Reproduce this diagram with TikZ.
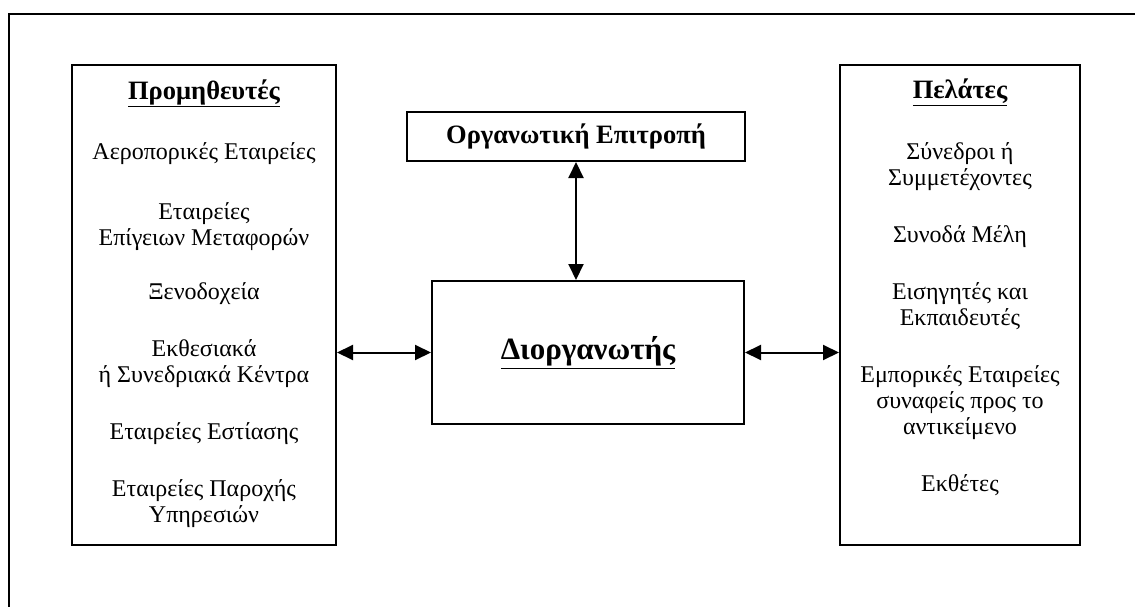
\documentclass[tikz,border=0pt]{standalone}
\usepackage{fontspec}
\setmainfont{Liberation Serif}
\usetikzlibrary{positioning, arrows.meta}

\begin{document}
\begin{tikzpicture}[x=1pt, y=-1pt, line width=2pt, >={Triangle[length=16pt, width=15pt]},
    box/.style={draw, rectangle, inner sep=0pt},
    head/.style={font=\fontsize{26.5}{26}\selectfont\bfseries, inner sep=0pt},
    txt/.style={align=center, font=\fontsize{24}{26}\selectfont, inner sep=0pt, anchor=north}]
    \useasboundingbox (0,0) rectangle (1135,607);
    % outer frame, cut by the page on the right and at the bottom
    \draw[line width=2.4pt] (1145,14) -- (9,14) -- (9,620);

    \node[box, minimum width=264pt, minimum height=480pt] (prom) at (204,305) {};
    \node[box, minimum width=240pt, minimum height=480pt] (pel) at (960,305) {};
    \node[box, minimum width=338pt, minimum height=49pt] (epit) at (576,136.5) {};
    \node[box, minimum width=312pt, minimum height=143pt] (dior) at (588,352.5) {};

    \node[head] (epitname) at (epit.center) {Οργανωτική Επιτροπή};
    \node[head, font=\fontsize{31}{31}\selectfont\bfseries] (diorname) at (dior.center) {\underline{Διοργανωτής}};

    \node[head] (promhead) at (204,93) {\underline{Προμηθευτές}};
    \node[txt] (promlist) at (204,141.5) {Αεροπορικές Εταιρείες\\[34pt]
        Εταιρείες\\Επίγειων Μεταφορών\\[28pt]
        Ξενοδοχεία\\[31pt]
        Εκθεσιακά\\ή Συνεδριακά Κέντρα\\[31pt]
        Εταιρείες Εστίασης\\[31pt]
        Εταιρείες Παροχής\\Υπηρεσιών};

    \node[head] (pelhead) at (960,92) {\underline{Πελάτες}};
    \node[txt] (pellist) at (960,141.5) {Σύνεδροι ή\\Συμμετέχοντες\\[31pt]
        Συνοδά Μέλη\\[31pt]
        Εισηγητές και\\Εκπαιδευτές\\[31pt]
        Εμπορικές Εταιρείες\\συναφείς προς το\\αντικείμενο\\[31pt]
        Εκθέτες};

    \draw[<->] (epit.south) -- (epit.south |- dior.north);
    \draw[<->] (dior.west) -- (dior.west -| prom.east);
    \draw[<->] (dior.east) -- (dior.east -| pel.west);
\end{tikzpicture}
\end{document}
